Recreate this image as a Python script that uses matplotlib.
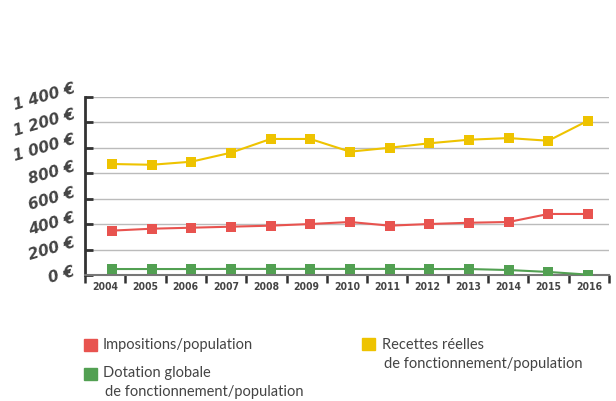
import matplotlib
matplotlib.use("Agg")
import matplotlib.pyplot as plt
import numpy as np
from matplotlib.patches import Rectangle

years = ["2004", "2005", "2006", "2007", "2008", "2009", "2010",
         "2011", "2012", "2013", "2014", "2015", "2016"]
recettes = [873, 867, 891, 962, 1070, 1070, 970, 1001, 1036, 1064, 1077, 1056, 1214]
impositions = [349, 364, 372, 380, 388, 401, 417, 388, 401, 411, 417, 480, 480]
dotation = [47, 47, 47, 48, 48, 48, 48, 48, 47, 47, 39, 24, 3]
ytick_vals = [0, 200, 400, 600, 800, 1000, 1200, 1400]
ytick_labels = ["0 €", "200 €", "400 €", "600 €", "800 €", "1 000 €", "1 200 €", "1 400 €"]

c_yellow = "#eec300"
c_red = "#e8534f"
c_green = "#52a052"
txt = "#444444"

fig = plt.figure(figsize=(6.16, 4.01), dpi=100)
W, H = 616, 401
ax = fig.add_axes([85 / W, 1 - 275 / H, (609 - 85) / W, (275 - 97) / H])

x = np.arange(len(years))
xmin, xmax = -0.68, len(years) - 1 + 0.53
for vals, c in [(dotation, c_green), (impositions, c_red), (recettes, c_yellow)]:
    ax.plot(x, vals, color=c, lw=1.5, marker="s", ms=6.5, mew=0, zorder=3)

ax.set_xlim(xmin, xmax)
ax.set_ylim(0, 1400)

ax.set_yticks(ytick_vals)
ax.set_yticklabels(ytick_labels, rotation=16, fontsize=11, fontweight="bold",
                   fontstyle="italic", color=txt, ha="right", va="center")
ax.tick_params(axis="y", direction="in", length=6, width=2, color="#333333", pad=6)
ax.grid(axis="y", color="#bbbbbb", lw=1, zorder=0)

edges = np.linspace(xmin, xmax, len(years) + 1)
mids = (edges[:-1] + edges[1:]) / 2
ax.set_xticks(edges, minor=True)
ax.set_xticks(mids)
ax.set_xticklabels(years, fontsize=7.5, fontweight="bold", color=txt, fontstretch="condensed")
ax.tick_params(axis="x", which="major", length=0, pad=5)
ax.tick_params(axis="x", which="minor", direction="out", length=6, width=1.8, color="#333333")

for s in ["top", "right"]:
    ax.spines[s].set_visible(False)
ax.spines["left"].set_color("#333333")
ax.spines["left"].set_linewidth(2)
ax.spines["bottom"].set_color("#777777")
ax.spines["bottom"].set_linewidth(1.5)

def sq(px, py, c):
    fig.patches.append(Rectangle((px / W, 1 - (py + 12) / H), 13 / W, 12 / H,
                                 transform=fig.transFigure, color=c, figure=fig))

def t(px, py, s):
    fig.text(px / W, 1 - py / H, s, fontsize=10.5, color=txt, family="Lato", va="center")

sq(84, 339, c_red)
t(103, 345, "Impositions/population")
sq(84, 368, c_green)
t(103, 373, "Dotation globale")
t(105, 392, "de fonctionnement/population")
sq(362, 338, c_yellow)
t(382, 345, "Recettes réelles")
t(384, 364, "de fonctionnement/population")

fig.savefig("out.png", dpi=100)
